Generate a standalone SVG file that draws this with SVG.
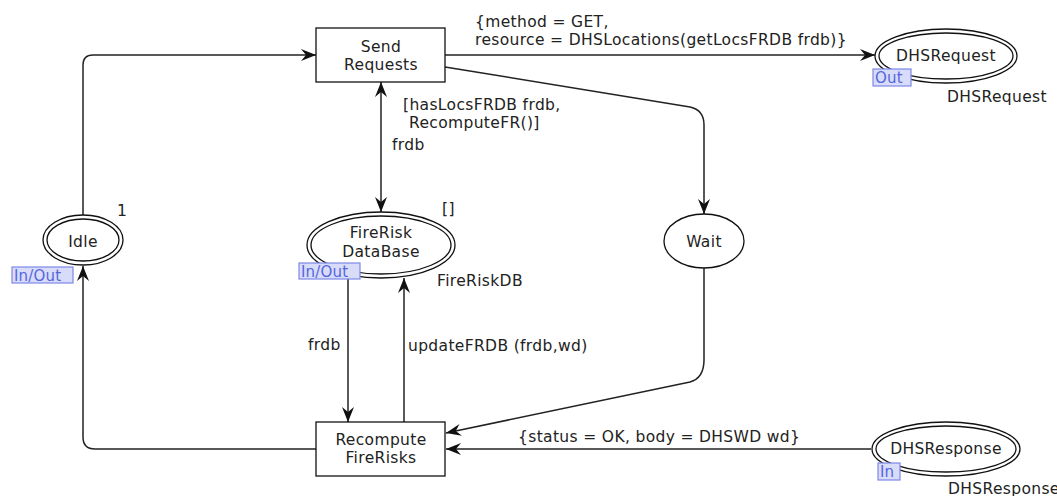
<svg xmlns="http://www.w3.org/2000/svg" width="1057" height="496" viewBox="0 0 1057 496">
  <style>
    text { font-family: "DejaVu Sans", Verdana, sans-serif; font-size: 15.5px; letter-spacing: 0.35px; fill: #222; }
    .mid { text-anchor: middle; }
    .edge { fill: none; stroke: #222; stroke-width: 1.5; }
    .arr { marker-end: url(#head); }
    .place { fill: #fff; stroke: #111; stroke-width: 1.3; }
    .trans { fill: #fff; stroke: #111; stroke-width: 1.3; }
    .tag rect { fill: #d8dcf8; stroke: #7d88e8; stroke-width: 1.2; }
    .tag text { fill: #5566dd; font-size: 15px; letter-spacing: 0.2px; }
  </style>
  <defs>
    <marker id="head" viewBox="0 0 15 12" refX="15" refY="6" markerWidth="15" markerHeight="12" markerUnits="userSpaceOnUse" orient="auto-start-reverse">
      <path d="M0,0 L15,6 L0,12 L5,6 z" fill="#111"/>
    </marker>
  </defs>
  <rect width="1057" height="496" fill="#fff"/>

  <!-- arcs -->
  <g id="connectors">
    <path class="edge arr" d="M83,215 V65 Q83,55 93,55 H316"/>
    <path class="edge arr" d="M445,55 H875"/>
    <path class="edge arr" d="M381,82 V212" marker-start="url(#head)"/>
    <path class="edge arr" d="M445,67 L690,107 Q704,110 704,125 V214"/>
    <path class="edge arr" d="M704,268 V360 Q704,378 690,382 L446,433"/>
    <path class="edge arr" d="M871,449 H446"/>
    <path class="edge arr" d="M316,449 H95 Q83,449 83,437 V266"/>
    <path class="edge arr" d="M348,273 V422"/>
    <path class="edge arr" d="M404,422 V278"/>
  </g>

  <!-- arc inscriptions and guards -->
  <g id="labels">
    <text x="475" y="27">{method = GET,</text>
    <text x="475" y="45">resource = DHSLocations(getLocsFRDB frdb)}</text>
    <text x="403" y="110">[hasLocsFRDB frdb,</text>
    <text x="409" y="128">RecomputeFR()]</text>
    <text x="392" y="150">frdb</text>
    <text x="308" y="350">frdb</text>
    <text x="408" y="351">updateFRDB (frdb,wd)</text>
    <text x="518" y="442">{status = OK, body = DHSWD wd}</text>
  </g>

  <g id="send-requests">
    <rect class="trans" x="316" y="28" width="129" height="54"/>
    <text class="mid" x="381" y="52">Send</text>
    <text class="mid" x="381" y="70">Requests</text>
  </g>

  <g id="recompute-firerisks">
    <rect class="trans" x="316" y="422" width="129" height="54"/>
    <text class="mid" x="381" y="445">Recompute</text>
    <text class="mid" x="381" y="463">FireRisks</text>
  </g>

  <g id="idle">
    <ellipse class="place" cx="83" cy="240" rx="40" ry="25"/>
    <ellipse class="place" cx="83" cy="240" rx="36" ry="21"/>
    <text class="mid" x="83" y="247">Idle</text>
    <text x="117" y="216">1</text>
    <g class="tag">
      <rect x="12" y="267" width="61" height="16"/>
      <text x="14" y="281">In/Out</text>
    </g>
  </g>

  <g id="firerisk-database">
    <ellipse class="place" cx="381" cy="245" rx="74" ry="33"/>
    <ellipse class="place" cx="381" cy="245" rx="70" ry="29"/>
    <text class="mid" x="381" y="238">FireRisk</text>
    <text class="mid" x="381" y="257">DataBase</text>
    <text x="442" y="214">[]</text>
    <text x="437" y="286">FireRiskDB</text>
    <g class="tag">
      <rect x="299" y="263" width="61" height="16"/>
      <text x="301" y="277">In/Out</text>
    </g>
  </g>

  <g id="wait">
    <ellipse class="place" cx="704" cy="241" rx="40" ry="27"/>
    <text class="mid" x="704" y="247">Wait</text>
  </g>

  <g id="dhs-request">
    <ellipse class="place" cx="946" cy="56" rx="71" ry="27"/>
    <ellipse class="place" cx="946" cy="56" rx="67" ry="23"/>
    <text class="mid" x="946" y="61">DHSRequest</text>
    <text x="947" y="102">DHSRequest</text>
    <g class="tag">
      <rect x="873" y="69" width="38" height="17"/>
      <text x="875" y="83">Out</text>
    </g>
  </g>

  <g id="dhs-response">
    <ellipse class="place" cx="946" cy="449" rx="74" ry="27"/>
    <ellipse class="place" cx="946" cy="449" rx="70" ry="23"/>
    <text class="mid" x="946" y="454">DHSResponse</text>
    <text x="948" y="494">DHSResponse</text>
    <g class="tag">
      <rect x="878" y="463" width="22" height="17"/>
      <text x="880" y="477">In</text>
    </g>
  </g>
</svg>
